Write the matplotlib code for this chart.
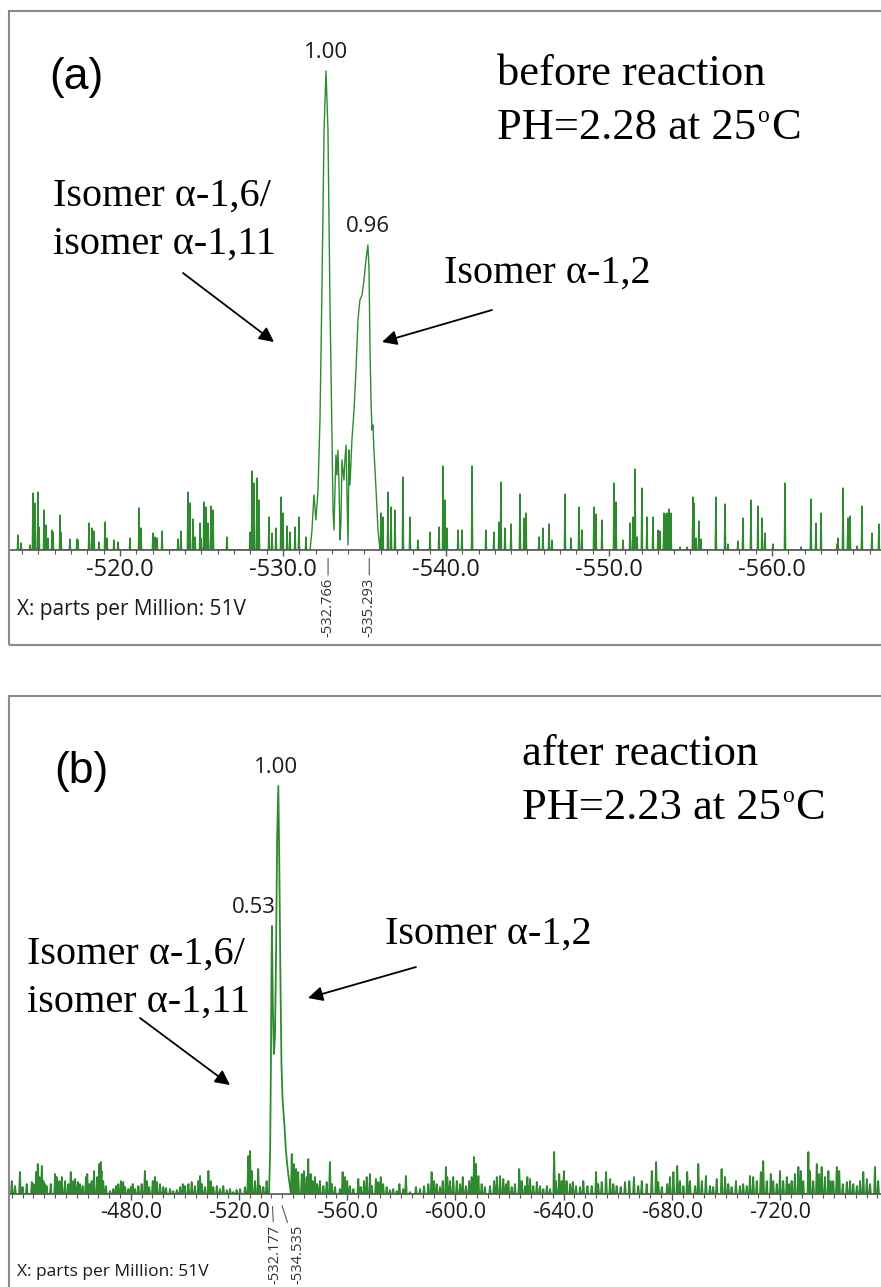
import matplotlib
matplotlib.use("Agg")
import matplotlib.pyplot as plt
from matplotlib.patches import Rectangle, FancyArrowPatch
from matplotlib.ticker import FixedLocator, MultipleLocator
import numpy as np

# ---------------- data : panel (a) before reaction ----------------
a_prof_ppm = [-531.66, -531.78, -531.90, -532.02, -532.15, -532.27, -532.39, -532.52,
              -532.64, -532.76, -532.88, -533.01, -533.07, -533.13, -533.19, -533.25,
              -533.31, -533.37, -533.44, -533.50, -533.56, -533.62, -533.74, -533.80,
              -533.87, -533.99, -534.05, -534.11, -534.23, -534.36, -534.48, -534.60,
              -534.72, -534.85, -534.97, -535.09, -535.21, -535.28, -535.34, -535.40,
              -535.46, -535.52, -535.58, -535.71, -535.83, -535.95]
a_prof_int = [0, 20, 55, 30, 60, 130, 260, 420,
              479, 420, 250, 110, 40, 20, 60, 95,
              75, 100, 65, 10, 30, 90, 70, 90,
              105, 5, 100, 65, 110, 140, 180, 230,
              250, 255, 270, 290, 305, 280, 200, 150,
              120, 125, 100, 60, 20, 0]

a_noise_ppm = [-513.74, -513.93, -514.48, -514.66, -514.79, -514.97, -515.03, -515.34,
               -515.46, -515.58, -515.83, -515.89, -516.32, -516.38, -516.93, -517.36,
               -517.42, -518.10, -518.28, -518.40, -518.71, -519.08, -519.20, -519.63,
               -519.88, -520.61, -521.17, -521.29, -522.02, -522.15, -522.27, -522.58,
               -523.56, -523.74, -524.17, -524.29, -524.48, -524.60, -524.91, -524.97,
               -525.15, -525.28, -525.40, -525.58, -525.71, -526.56, -527.98, -528.10,
               -528.22, -528.40, -528.53, -529.14, -529.33, -529.57, -529.88, -530.00,
               -530.25, -530.43, -530.74, -530.98, -531.41,
               -536.01, -536.13, -536.44, -536.63, -536.87, -537.36, -537.79, -538.28,
               -539.02, -539.57, -539.82, -539.94, -540.06, -540.74, -540.98, -541.60,
               -542.45, -542.94, -543.25, -543.37, -543.62, -543.99, -544.54, -544.79,
               -544.91, -545.71, -545.95, -546.32, -546.50, -547.30, -547.67, -548.16,
               -548.34, -549.08, -549.20, -549.57, -550.31, -550.43, -550.86, -551.29,
               -551.47, -551.60, -551.72, -552.02, -552.33, -552.70, -553.01, -553.13,
               -553.37, -553.44, -553.56, -553.68, -553.80, -554.36, -554.79, -555.15,
               -555.21, -555.34, -555.52, -555.64, -556.56, -557.12, -557.30, -557.91,
               -558.22, -558.71, -559.14, -559.39, -559.57, -560.06, -560.80, -561.79,
               -562.39, -562.70, -563.01, -563.99, -564.05, -564.36, -564.66, -564.79,
               -565.22, -565.52, -566.13, -566.56]
a_noise_int = [15, 7, 5, 57, 47, 58, 23, 40,
               25, 12, 20, 18, 35, 18, 11, 11,
               10, 27, 22, 19, 8, 28, 12, 10,
               8, 12, 42, 22, 17, 13, 12, 19,
               11, 19, 58, 47, 31, 13, 27, 12,
               48, 43, 27, 44, 40, 13, 18, 79,
               67, 72, 50, 33, 17, 22, 53, 37,
               24, 18, 23, 33, 13,
               37, 33, 58, 43, 40, 73, 33, 10,
               18, 23, 84, 50, 22, 20, 20, 84,
               20, 18, 28, 68, 22, 26, 56, 32,
               37, 13, 22, 26, 10, 56, 12, 43,
               20, 43, 36, 30, 67, 48, 10, 27,
               33, 81, 13, 62, 33, 33, 20, 19,
               37, 36, 37, 41, 37, 3, 3, 53,
               47, 12, 29, 11, 53, 46, 6, 9,
               32, 50, 44, 32, 17, 6, 67, 3,
               51, 27, 37, 6, 12, 62, 32, 34,
               4, 44, 17, 26]

a_xticks = [-520.0, -530.0, -540.0, -550.0, -560.0]
a_peak_ppm = [-532.766, -535.293]
a_integral_ppm = [-532.64, -535.21]
a_integral_int = [479, 305]
a_integral_txt = ["1.00", "0.96"]

# ---------------- data : panel (b) after reaction ----------------
b_prof_ppm = [-531.1, -531.5, -531.8, -532.0, -532.18, -532.5, -532.9, -533.3, -533.7,
              -534.1, -534.54, -534.9, -535.3, -535.7, -536.1, -536.5, -536.9, -537.3,
              -537.7, -538.2, -538.8]
b_prof_int = [0, 40, 130, 220, 268, 190, 140, 158, 240,
              357, 408, 330, 220, 130, 95, 80, 64, 45,
              33, 20, 8]

b_noise_ppm = [-436.0, -437.2, -439.0, -440.0, -441.5, -443.4, -444.0, -445.0, -445.6,
               -446.2, -447.1, -447.7, -448.3, -448.9, -450.4, -452.0, -452.6, -453.6,
               -454.5, -455.7, -456.9, -457.8, -458.7, -459.4, -460.4, -461.2, -462.2,
               -463.4, -463.9, -464.7, -465.5, -466.4, -467.6, -468.4, -468.9, -469.2,
               -469.8, -470.8, -472.3, -473.5, -474.5, -475.4, -476.4, -477.2, -477.9,
               -479.1, -480.0, -480.7, -481.6, -482.8, -484.0, -485.2, -485.9, -486.8,
               -488.1, -488.9, -489.6, -490.8, -492.0, -493.0, -494.5, -495.7, -497.0,
               -498.2, -499.2, -500.0, -501.3, -502.5, -503.7, -505.0, -505.6, -506.2,
               -507.4, -508.7, -509.5, -510.5, -511.8, -513.0, -514.2, -515.5, -516.7,
               -517.9, -519.1, -520.4, -522.2, -523.4, -524.1, -524.7, -525.9, -527.1,
               -527.8, -529.0, -530.2,
               -539.5, -540.3, -541.1, -541.9, -543.2, -544.0, -545.0, -545.6, -546.5,
               -547.2, -548.1, -548.9, -549.9, -551.2, -552.4, -553.6, -554.3, -555.5,
               -557.3, -558.3, -559.2, -560.0, -561.0, -562.3, -564.1, -565.0, -566.2,
               -567.2, -568.4, -569.1, -570.6, -571.5, -572.4, -573.3, -574.6, -575.8,
               -577.0, -578.3, -579.3, -580.7, -581.7, -583.2, -585.4, -586.9, -588.4,
               -590.0, -591.2, -592.1, -593.1, -594.3, -595.3, -596.5, -597.0, -598.0,
               -599.2, -600.5, -601.7, -602.7, -603.9, -605.1, -606.0, -606.9, -607.6,
               -608.5, -609.7, -610.9, -612.8, -614.3, -615.3, -616.5, -617.7, -618.7,
               -619.6, -620.8, -622.0, -623.6, -624.5, -625.7, -626.6, -627.6, -628.8,
               -630.1, -631.3, -632.5, -633.8, -635.0, -636.5, -637.2, -638.4, -639.3,
               -640.1, -641.1, -642.4, -643.4, -644.6, -646.1, -647.3, -648.8,
               -650.4, -652.0, -652.8, -654.1, -655.7, -657.2, -658.4, -659.6, -661.1,
               -662.7, -664.3, -666.0, -667.6, -668.9, -670.7, -672.6, -674.2, -675.0,
               -676.3, -678.3, -679.3, -680.6, -682.0, -683.0, -684.3, -685.7, -686.7,
               -688.6, -689.8, -691.1, -692.6, -694.1, -695.3, -696.6, -698.4, -699.7,
               -700.9, -702.1, -703.7, -705.2, -706.4, -707.7, -708.9, -710.1, -711.4,
               -712.9, -713.8, -715.1, -716.6, -717.5, -718.8, -720.0, -721.2, -722.5,
               -723.4, -724.3, -725.5, -726.8, -727.7, -728.6, -730.5, -731.1, -732.3,
               -733.6, -734.5, -735.4, -736.6, -737.9, -738.7, -739.7, -741.0, -741.9,
               -743.2, -744.7, -745.9, -747.1, -748.4, -749.6, -750.8, -752.1, -753.3,
               -755.1, -756.3]
b_noise_int = [13, 8, 22, 7, 10, 12, 10, 22, 30,
               17, 28, 13, 10, 8, 10, 20, 17, 13,
               17, 13, 10, 22, 13, 15, 12, 10, 8,
               17, 20, 10, 13, 23, 17, 30, 32, 23,
               13, 8, 3, 5, 8, 10, 13, 12, 7,
               5, 7, 10, 5, 8, 10, 23, 13, 7,
               13, 17, 12, 10, 7, 6, 5, 3, 4,
               7, 10, 8, 10, 12, 8, 13, 18, 10,
               7, 23, 13, 7, 8, 5, 8, 4, 5,
               2, 4, 5, 7, 38, 43, 23, 13, 25,
               8, 7, 13,
               40, 30, 25, 22, 20, 23, 17, 35, 20,
               13, 17, 10, 13, 8, 12, 32, 10, 7,
               5, 22, 17, 13, 8, 5, 15, 7, 13,
               17, 20, 8, 15, 12, 17, 10, 7, 4,
               5, 3, 10, 5, 18, 2, 7, 5, 8,
               10, 22, 13, 10, 7, 13, 27, 17, 13,
               17, 13, 10, 17, 8, 13, 17, 37, 30,
               18, 10, 7, 8, 13, 17, 18, 15, 10,
               13, 7, 10, 25, 13, 8, 17, 15, 8,
               12, 8, 5, 8, 5, 42, 13, 20, 13,
               23, 13, 10, 12, 8, 7, 13, 8,
               8, 22, 10, 12, 22, 15, 10, 8, 7,
               12, 13, 17, 8, 13, 10, 23, 32, 12,
               7, 10, 17, 22, 28, 13, 8, 22, 13,
               8, 30, 13, 18, 8, 7, 15, 25, 17,
               10, 7, 13, 8, 10, 8, 18, 17, 13,
               22, 33, 13, 20, 13, 10, 23, 13, 17,
               10, 13, 20, 27, 23, 13, 42, 23, 13,
               30, 20, 27, 17, 23, 13, 13, 27, 23,
               10, 12, 13, 10, 8, 13, 22, 15, 10,
               27, 13]

b_xticks = [-480.0, -520.0, -560.0, -600.0, -640.0, -680.0, -720.0]
b_peak_ppm = [-532.177, -534.535]
b_integral_ppm = [-532.18, -534.54]
b_integral_int = [268, 408]
b_integral_txt = ["0.53", "1.00"]

# ---------------- layout helpers ----------------
W, H = 881, 1287
fig = plt.figure(figsize=(W / 100, H / 100), dpi=100)


def fx(x):
    return x / W


def fy(y):
    return 1 - y / H


def build(prof_ppm, prof_int, noise_ppm, noise_int, w):
    xs = list(prof_ppm)
    ys = list(prof_int)
    for p, h in zip(noise_ppm, noise_int):
        xs += [p + w, p, p - w]
        ys += [0, h, 0]
    order = np.argsort(xs)
    return np.array(xs)[order], np.array(ys)[order]


GREEN = "#2f8a2f"
SERIF = "Liberation Serif"
SANS = "Open Sans"

# frames
fig.add_artist(Rectangle((fx(8.5), fy(645)), fx(905) - fx(8.5), fy(11) - fy(645),
                         transform=fig.transFigure, fill=False, edgecolor="#8a8a8a", lw=1.5))
fig.add_artist(Rectangle((fx(9), fy(1300)), fx(905) - fx(9), fy(695.5) - fy(1300),
                         transform=fig.transFigure, fill=False, edgecolor="#8a8a8a", lw=1.5))


def setup_axis(ax, xlim, ylim, ticks, minor, labelsize):
    ax.set_xlim(*xlim)
    ax.set_ylim(*ylim)
    ax.patch.set_alpha(0)
    for s in ("top", "left", "right"):
        ax.spines[s].set_visible(False)
    ax.spines["bottom"].set_color("#555555")
    ax.spines["bottom"].set_linewidth(1.2)
    ax.set_yticks([])
    ax.xaxis.set_major_locator(FixedLocator(ticks))
    ax.set_xticklabels([f"{v:.1f}" for v in ticks])
    ax.xaxis.set_minor_locator(MultipleLocator(minor))
    ax.tick_params(axis="x", which="major", length=4, width=1, color="#555555",
                   labelsize=labelsize, pad=2, labelcolor="#1a1a1a")
    ax.tick_params(axis="x", which="minor", length=3, width=0.8, color="#555555")
    for lbl in ax.get_xticklabels():
        lbl.set_fontfamily(SANS)


def ph_text(ax, x, y, main):
    t = fig.text(fx(x), fy(y), main, fontsize=32, family=SERIF, va="baseline")
    t_o = ax.annotate("o", xy=(1, 0), xycoords=t, xytext=(1, 15),
                      textcoords="offset points", fontsize=17, family=SERIF,
                      va="bottom", ha="left", annotation_clip=False)
    ax.annotate("C", xy=(1, 0), xycoords=(t_o, t), xytext=(1, 0),
                textcoords="offset points", fontsize=32, family=SERIF,
                va="bottom", ha="left", annotation_clip=False)


arrow_kw = dict(arrowstyle="-|>", color="black", lw=1.3, mutation_scale=22,
                shrinkA=0, shrinkB=0)

# ---------------- panel (a) ----------------
axA = fig.add_axes([fx(8.5), fy(550), fx(881) - fx(8.5), fy(11) - fy(550)])
setup_axis(axA, (-513.16, -566.69), (0, 539), a_xticks, 1, 17)
xa, ya = build(a_prof_ppm, a_prof_int, a_noise_ppm, a_noise_int, 0.04)
axA.plot(xa, ya, color=GREEN, lw=1.0)

for p, h, t in zip(a_integral_ppm, a_integral_int, a_integral_txt):
    axA.annotate(t, xy=(p, h), xytext=(0, 13), textcoords="offset points",
                 ha="center", va="center", fontsize=16, family=SANS, color="#1a1a1a")
for p in a_peak_ppm:
    axA.annotate(f"{p:.3f}", xy=(p, 0), xycoords=("data", "axes fraction"),
                 xytext=(0, -20), textcoords="offset points", rotation=90,
                 ha="center", va="top", fontsize=10.5, family=SANS, color="#333333",
                 arrowprops=dict(arrowstyle="-", color="#555555", lw=0.8,
                                 shrinkA=0, shrinkB=6))

fig.text(fx(49), fy(78), "(a)", fontsize=32, family="Liberation Sans", va="center", ha="left")
fig.text(fx(497), fy(85), "before reaction", fontsize=32, family=SERIF, va="baseline")
ph_text(axA, 497, 139, "PH=2.28 at 25")
fig.text(fx(53), fy(206), "Isomer α-1,6/", fontsize=29, family=SERIF, va="baseline")
fig.text(fx(53), fy(254), "isomer α-1,11", fontsize=29, family=SERIF, va="baseline")
fig.text(fx(444), fy(283), "Isomer α-1,2", fontsize=29, family=SERIF, va="baseline")
fig.text(fx(17), fy(610), "X: parts per Million: 51V", fontsize=15, family=SANS,
         va="center", color="#1a1a1a")

for (x0, y0), (x1, y1) in [((183, 273), (274, 342)), ((492, 310), (382, 342))]:
    fig.add_artist(FancyArrowPatch((fx(x0), fy(y0)), (fx(x1), fy(y1)),
                                   transform=fig.transFigure, **arrow_kw))

# ---------------- panel (b) ----------------
axB = fig.add_axes([fx(9), fy(1194), fx(881) - fx(9), fy(695.5) - fy(1194)])
setup_axis(axB, (-434.97, -757.34), (0, 498.5), b_xticks, 4, 15.5)
xb, yb = build(b_prof_ppm, b_prof_int, b_noise_ppm, b_noise_int, 0.3)
axB.plot(xb, yb, color=GREEN, lw=1.3)

b_label_dx = [2, 14]
b_label_ha = ["right", "center"]
b_label_off = [3, -2]
for p, h, t, ha, dx in zip(b_integral_ppm, b_integral_int, b_integral_txt, b_label_ha, b_label_off):
    axB.annotate(t, xy=(p, h), xytext=(dx, 13), textcoords="offset points",
                 ha=ha, va="center", fontsize=16, family=SANS, color="#1a1a1a")
for p, dx in zip(b_peak_ppm, b_label_dx):
    axB.annotate(f"{p:.3f}", xy=(p, 0), xycoords=("data", "axes fraction"),
                 xytext=(dx, -22), textcoords="offset points", rotation=90,
                 ha="center", va="top", fontsize=10.5, family=SANS, color="#333333",
                 arrowprops=dict(arrowstyle="-", color="#555555", lw=0.8,
                                 shrinkA=0, shrinkB=9))

fig.text(fx(54), fy(771), "(b)", fontsize=32, family="Liberation Sans", va="center", ha="left")
fig.text(fx(522), fy(765), "after reaction", fontsize=32, family=SERIF, va="baseline")
ph_text(axB, 522, 819, "PH=2.23 at 25")
fig.text(fx(385), fy(944), "Isomer α-1,2", fontsize=29, family=SERIF, va="baseline")
fig.text(fx(27), fy(964), "Isomer α-1,6/", fontsize=29, family=SERIF, va="baseline")
fig.text(fx(27), fy(1012), "isomer α-1,11", fontsize=29, family=SERIF, va="baseline")
fig.text(fx(17), fy(1272), "X: parts per Million: 51V", fontsize=12.5, family=SANS,
         va="center", color="#1a1a1a")

for (x0, y0), (x1, y1) in [((140, 1018), (230, 1085)), ((416, 967), (308, 998))]:
    fig.add_artist(FancyArrowPatch((fx(x0), fy(y0)), (fx(x1), fy(y1)),
                                   transform=fig.transFigure, **arrow_kw))

fig.savefig("out.png", dpi=100)
